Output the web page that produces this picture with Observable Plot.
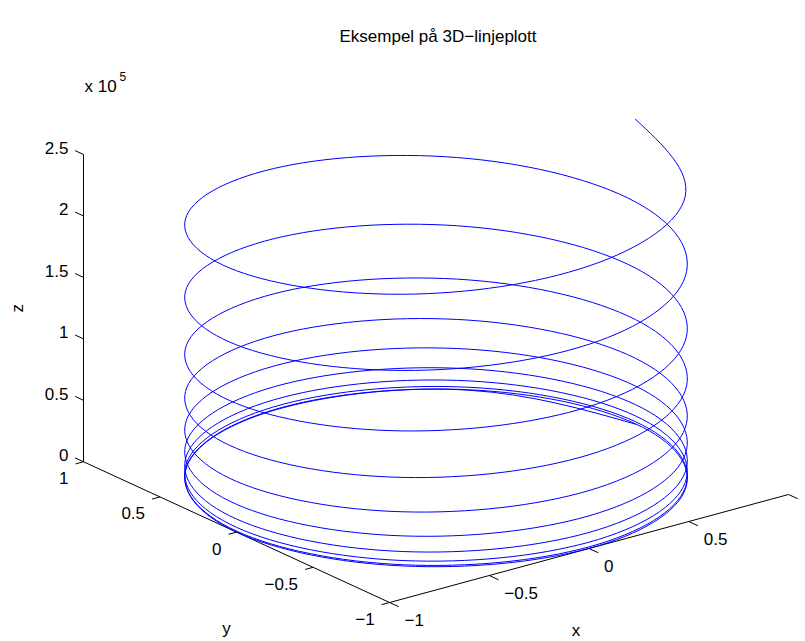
<!DOCTYPE html>
<html>
<head>
<meta charset="utf-8">
<script src="https://cdn.jsdelivr.net/npm/d3@7"></script>
<script src="https://cdn.jsdelivr.net/npm/@observablehq/plot@0.6"></script>
<style>
  body { margin: 0; background: #fff; font-family: "Liberation Sans", Arial, Helvetica, sans-serif; }
  #title { position: relative; width: 805px; height: 50px; }
  #title span { position: absolute; left: 438px; top: 27px; transform: translateX(-50%); font-size: 17px; color: #000; white-space: nowrap; }
  #chart svg { display: block; }
</style>
</head>
<body>
<div id="title"><span>Eksempel på 3D−linjeplott</span></div>
<div id="chart"></div>
<script>
// ---- Data: helix points (10 turns, 8 samples per turn) ----
const helixX = [
  1, 0.7071, 0, -0.7071, -1, -0.7071, 0, 0.7071,
  1, 0.7071, 0, -0.7071, -1, -0.7071, 0, 0.7071,
  1, 0.7071, 0, -0.7071, -1, -0.7071, 0, 0.7071,
  1, 0.7071, 0, -0.7071, -1, -0.7071, 0, 0.7071,
  1, 0.7071, 0, -0.7071, -1, -0.7071, 0, 0.7071,
  1, 0.7071, 0, -0.7071, -1, -0.7071, 0, 0.7071,
  1, 0.7071, 0, -0.7071, -1, -0.7071, 0, 0.7071,
  1, 0.7071, 0, -0.7071, -1, -0.7071, 0, 0.7071,
  1, 0.7071, 0, -0.7071, -1, -0.7071, 0, 0.7071,
  1, 0.7071, 0, -0.7071, -1, -0.7071, 0, 0.7071,
  1
];
const helixY = [
  0, 0.7071, 1, 0.7071, 0, -0.7071, -1, -0.7071,
  0, 0.7071, 1, 0.7071, 0, -0.7071, -1, -0.7071,
  0, 0.7071, 1, 0.7071, 0, -0.7071, -1, -0.7071,
  0, 0.7071, 1, 0.7071, 0, -0.7071, -1, -0.7071,
  0, 0.7071, 1, 0.7071, 0, -0.7071, -1, -0.7071,
  0, 0.7071, 1, 0.7071, 0, -0.7071, -1, -0.7071,
  0, 0.7071, 1, 0.7071, 0, -0.7071, -1, -0.7071,
  0, 0.7071, 1, 0.7071, 0, -0.7071, -1, -0.7071,
  0, 0.7071, 1, 0.7071, 0, -0.7071, -1, -0.7071,
  0, 0.7071, 1, 0.7071, 0, -0.7071, -1, -0.7071,
  0
];
const helixZ = [
  0, 0.5, 3.9, 13, 31, 61, 105, 166,
  248, 353, 484, 645, 837, 1064, 1329, 1635,
  1984, 2380, 2825, 3323, 3876, 4487, 5159, 5895,
  6697, 7570, 8515, 9536, 10635, 11816, 13081, 14433,
  15875, 17411, 19042, 20772, 22604, 24540, 26584, 28739,
  31006, 33391, 35894, 38519, 41269, 44148, 47157, 50300,
  53579, 56998, 60559, 64266, 68121, 72127, 76287, 80604,
  85081, 89721, 94527, 99501, 104646, 109966, 115464, 121141,
  127002, 133049, 139285, 145712, 152334, 159154, 166174, 173398,
  180828, 188468, 196320, 204387, 212672, 221178, 229908, 238864,
  248050
];

// ---- Axes ----
const xLim = [-1, 1];
const yLim = [-1, 1];
const zLim = [0, 250000];
const xTicks = [-1, -0.5, 0, 0.5, 1];
const xTickLabels = ["−1", "−0.5", "0", "0.5", ""];
const yTicks = [-1, -0.5, 0, 0.5, 1];
const yTickLabels = ["−1", "−0.5", "0", "0.5", "1"];
const zTicks = [0, 50000, 100000, 150000, 200000, 250000];
const zTickLabels = ["0", "0.5", "1", "1.5", "2", "2.5"];

// ---- View (MATLAB default 3-D view) ----
const az = -37.5 * Math.PI / 180;
const el = 30 * Math.PI / 180;
function project(X, Y, Z) {
  const zn = (Z - zLim[0]) / (zLim[1] - zLim[0]) * 2 - 1;
  const u = Math.cos(az) * X + Math.sin(az) * Y;
  const d = -Math.sin(az) * X + Math.cos(az) * Y;
  const w = Math.sin(el) * d + Math.cos(el) * zn;
  return {u, w};
}
const uMax = Math.abs(Math.cos(az)) + Math.abs(Math.sin(az));
const wMax = Math.sin(el) * uMax + Math.cos(el);

const helix = helixX.map((x, i) => project(x, helixY[i], helixZ[i]));

function seg(a, b) { const p = project(...a), q = project(...b); return {u1: p.u, w1: p.w, u2: q.u, w2: q.w}; }

const axisLines = [
  seg([xLim[0], yLim[0], zLim[0]], [xLim[1], yLim[0], zLim[0]]),
  seg([xLim[0], yLim[0], zLim[0]], [xLim[0], yLim[1], zLim[0]]),
  seg([xLim[0], yLim[1], zLim[0]], [xLim[0], yLim[1], zLim[1]])
];
const tickX = 0.06, tickY = 0.04, tickZ = 0.055;
const ticks = [
  ...xTicks.map(v => seg([v, yLim[0], zLim[0]], [v, yLim[0] - tickX, zLim[0]])),
  ...yTicks.map(v => seg([xLim[0], v, zLim[0]], [xLim[0] - tickY, v, zLim[0]])),
  ...zTicks.map(v => seg([xLim[0], yLim[1], v], [xLim[0], yLim[1] + tickZ, v]))
];
const xLab = xTicks.map((v, i) => ({...project(v, yLim[0], zLim[0]), t: xTickLabels[i]}));
const yLab = yTicks.map((v, i) => ({...project(xLim[0], v, zLim[0]), t: yTickLabels[i]}));
const zLab = zTicks.map((v, i) => ({...project(xLim[0], yLim[1], v), t: zTickLabels[i]}));
const xMid = [{...project(0, yLim[0], zLim[0]), t: "x"}];
const yMid = [{...project(xLim[0], 0, zLim[0]), t: "y"}];
const zMid = [{...project(xLim[0], yLim[1], (zLim[0] + zLim[1]) / 2), t: "z"}];
const zTop = project(xLim[0], yLim[1], zLim[1]);

const FS = 17;
const chart = Plot.plot({
  width: 805,
  height: 591,
  margin: 0,
  x: {type: "linear", domain: [-uMax, uMax], range: [83, 788], axis: null},
  y: {type: "linear", domain: [-wMax, wMax], range: [552, -4], axis: null},
  style: {fontFamily: "'Liberation Sans', Arial, Helvetica, sans-serif", background: "#fff"},
  marks: [
    Plot.link(axisLines, {x1: "u1", y1: "w1", x2: "u2", y2: "w2", stroke: "#000", strokeWidth: 1}),
    Plot.link(ticks, {x1: "u1", y1: "w1", x2: "u2", y2: "w2", stroke: "#000", strokeWidth: 1}),
    Plot.line(helix, {x: "u", y: "w", stroke: "#0000ff", strokeWidth: 1, curve: "natural"}),
    Plot.text(xLab, {x: "u", y: "w", text: "t", textAnchor: "start", dx: 15, dy: 18, fontSize: FS, fill: "#000"}),
    Plot.text(yLab, {x: "u", y: "w", text: "t", textAnchor: "end", dx: -15, dy: 17, fontSize: FS, fill: "#000"}),
    Plot.text(zLab, {x: "u", y: "w", text: "t", textAnchor: "end", dx: -15, dy: -6, fontSize: FS, fill: "#000"}),
    Plot.text(xMid, {x: "u", y: "w", text: "t", dx: -13, dy: 82, fontSize: FS, fill: "#000"}),
    Plot.text(yMid, {x: "u", y: "w", text: "t", dx: -10, dy: 96, fontSize: FS, fill: "#000"}),
    Plot.text(zMid, {x: "u", y: "w", text: "t", dx: -66, dy: 0, rotate: -90, fontSize: FS, fill: "#000"}),
    Plot.text([{...zTop, t: "x 10"}], {x: "u", y: "w", text: "t", textAnchor: "start", dx: 1, dy: -68, fontSize: FS, fill: "#000"}),
    Plot.text([{...zTop, t: "5"}], {x: "u", y: "w", text: "t", textAnchor: "start", dx: 36, dy: -77, fontSize: 12, fill: "#000"})
  ]
});
document.getElementById("chart").appendChild(chart);
</script>
</body>
</html>
